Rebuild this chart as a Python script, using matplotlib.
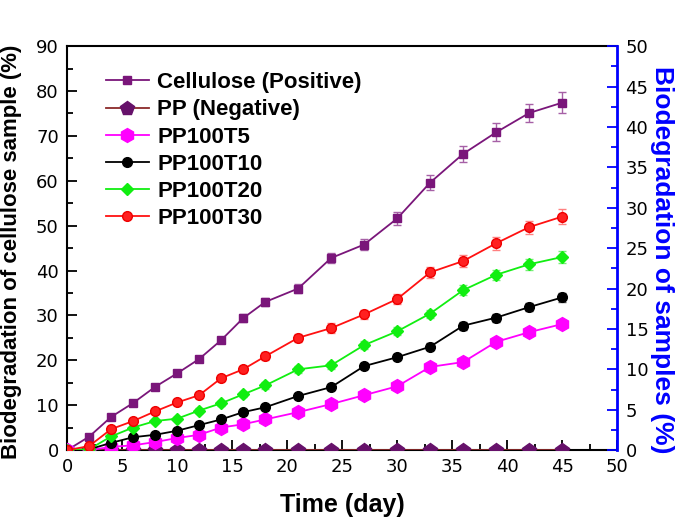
import numpy as np
import matplotlib
matplotlib.use("Agg")
import matplotlib.pyplot as plt
from matplotlib.lines import Line2D
from matplotlib.ticker import MultipleLocator

# data
days = [0, 2, 4, 6, 8, 10, 12, 14, 16, 18, 21, 24, 27, 30, 33, 36, 39, 42, 45]

# left axis (cellulose, %)
cellulose = [0, 3.0, 7.4, 10.5, 14.1, 17.1, 20.3, 24.5, 29.4, 33.0, 36.0, 42.8,
             45.8, 51.6, 59.6, 66.0, 70.8, 75.1, 77.4]
cellulose_err = [0, 0.3, 0.4, 0.5, 0.6, 0.6, 0.7, 0.7, 0.9, 1.0, 1.0, 1.2,
                 1.3, 1.5, 1.6, 1.8, 2.0, 2.1, 2.3]

# right axis (samples, %)
pp_neg = [0] * 19
pp100t5 = [0, 0, 0.4, 0.6, 1.0, 1.5, 1.9, 2.8, 3.2, 3.8, 4.7, 5.7,
           6.8, 7.9, 10.3, 10.9, 13.4, 14.6, 15.6]
pp100t10 = [0, 0.1, 0.9, 1.6, 1.9, 2.4, 3.1, 3.8, 4.7, 5.3, 6.7, 7.8,
            10.4, 11.5, 12.8, 15.4, 16.4, 17.7, 18.9]
pp100t20 = [0, 0.1, 1.7, 2.8, 3.6, 3.9, 4.9, 5.8, 6.9, 8.0, 10.0, 10.5,
            13.0, 14.7, 16.9, 19.8, 21.7, 23.0, 23.9]
pp100t30 = [0, 0.5, 2.6, 3.6, 4.8, 5.9, 6.8, 8.9, 10.0, 11.6, 13.9, 15.1,
            16.8, 18.7, 22.0, 23.4, 25.6, 27.6, 28.9]
t5_err = [0, 0, 0.1, 0.1, 0.1, 0.2, 0.2, 0.2, 0.2, 0.3, 0.3, 0.3,
          0.3, 0.3, 0.4, 0.4, 0.4, 0.4, 0.5]
t10_err = [0, 0, 0.1, 0.1, 0.2, 0.2, 0.2, 0.2, 0.3, 0.3, 0.3, 0.4,
           0.4, 0.4, 0.4, 0.5, 0.5, 0.5, 0.6]
t20_err = [0, 0, 0.1, 0.2, 0.2, 0.2, 0.3, 0.3, 0.3, 0.4, 0.4, 0.4,
           0.5, 0.5, 0.5, 0.6, 0.6, 0.7, 0.7]
t30_err = [0, 0.1, 0.2, 0.2, 0.3, 0.3, 0.3, 0.4, 0.4, 0.5, 0.5, 0.6,
           0.6, 0.6, 0.7, 0.7, 0.8, 0.8, 0.9]

labels = ['Cellulose (Positive)', 'PP (Negative)', 'PP100T5', 'PP100T10',
          'PP100T20', 'PP100T30']

tick_font = ['Liberation Sans Narrow', 'DejaVu Sans']
bold_font = ['Liberation Sans', 'DejaVu Sans']

fig = plt.figure(figsize=(6.85, 5.18), dpi=100)
ax = fig.add_axes([0.098, 0.131, 0.803, 0.780])
ax2 = ax.twinx()

eb = dict(capsize=3, elinewidth=1.0, capthick=1.0)

# (color, marker, size, face, edge)
styles = [('#7a167a', 's', 6, '#7a167a', '#7a167a'),
          ('#8b2a2a', 'p', 10, '#66116a', '#66116a'),
          ('#ff00ff', 'h', 10, '#ff00ff', '#ff00ff'),
          ('black', 'o', 7, 'black', 'black'),
          ('#11ee11', 'D', 6, '#11ee11', '#11ee11'),
          ('#ff1111', 'o', 7, '#ff2020', '#ee0000')]

ax.errorbar(days, cellulose, yerr=cellulose_err, color=styles[0][0], ecolor='#a660a6',
            marker='s', ms=6, lw=1.3, **eb)
ax2.plot(days, pp_neg, color=styles[1][0], marker='p', ms=10, mfc='#66116a',
         mec='#66116a', lw=1.3)
ax2.errorbar(days, pp100t5, yerr=t5_err, color='#ff00ff', ecolor='#ff80ff',
             marker='h', ms=10, lw=1.3, **eb)
ax2.errorbar(days, pp100t10, yerr=t10_err, color='black', ecolor='#555555',
             marker='o', ms=7, lw=1.3, **eb)
ax2.errorbar(days, pp100t20, yerr=t20_err, color='#11ee11', ecolor='#77ee77',
             marker='D', ms=6, lw=1.3, **eb)
ax2.errorbar(days, pp100t30, yerr=t30_err, color='#ff1111', ecolor='#ff8080',
             marker='o', ms=7, mfc='#ff2020', mec='#ee0000', lw=1.3, **eb)

ax.set_xlim(0, 50)
ax.set_ylim(0, 90)
ax2.set_ylim(0, 50)

ax.xaxis.set_major_locator(MultipleLocator(5))
ax.xaxis.set_minor_locator(MultipleLocator(2.5))
ax.yaxis.set_major_locator(MultipleLocator(10))
ax.yaxis.set_minor_locator(MultipleLocator(5))
ax2.yaxis.set_major_locator(MultipleLocator(5))
ax2.yaxis.set_minor_locator(MultipleLocator(2.5))

ax.tick_params(which='both', direction='in', top=False, width=1.3)
ax.tick_params(which='major', length=7, labelsize=13, pad=6)
ax.tick_params(which='minor', length=4)
ax2.tick_params(which='both', direction='in', color='blue', width=1.3)
ax2.tick_params(which='major', length=7, labelsize=13, pad=6)
ax2.tick_params(which='minor', length=4)

for lab in ax.get_xticklabels() + ax.get_yticklabels() + ax2.get_yticklabels():
    lab.set_family(tick_font)

for s in ['left', 'bottom', 'top']:
    ax.spines[s].set_linewidth(1.5)
ax2.spines['right'].set_color('blue')
ax2.spines['right'].set_linewidth(2)
ax.spines['right'].set_visible(False)
ax2.spines['left'].set_visible(False)
ax2.spines['top'].set_visible(False)
ax2.spines['bottom'].set_visible(False)

ax.set_xlabel('Time (day)', fontsize=18, fontweight='bold', family=bold_font, labelpad=12)
ax.set_ylabel('Biodegradation of cellulose sample (%)', fontsize=16,
              fontweight='bold', family=bold_font)
ax.yaxis.set_label_coords(-0.082, 0.49)
ax2.set_ylabel('Biodegradation of samples (%)', fontsize=19, fontweight='bold',
               family=bold_font, color='blue', rotation=270, va='center')
ax2.yaxis.set_label_coords(1.082, 0.47)

handles = [Line2D([], [], color=c, marker=m, ms=s, mfc=f, mec=e, lw=1.3)
           for c, m, s, f, e in styles]
ax2.legend(handles, labels, loc='upper left', bbox_to_anchor=(0.035, 0.985),
           frameon=False, prop=dict(family=bold_font, weight='bold', size=16),
           handlelength=1.9, handletextpad=0.4, labelspacing=0.28)

fig.savefig('out.png', dpi=100)
